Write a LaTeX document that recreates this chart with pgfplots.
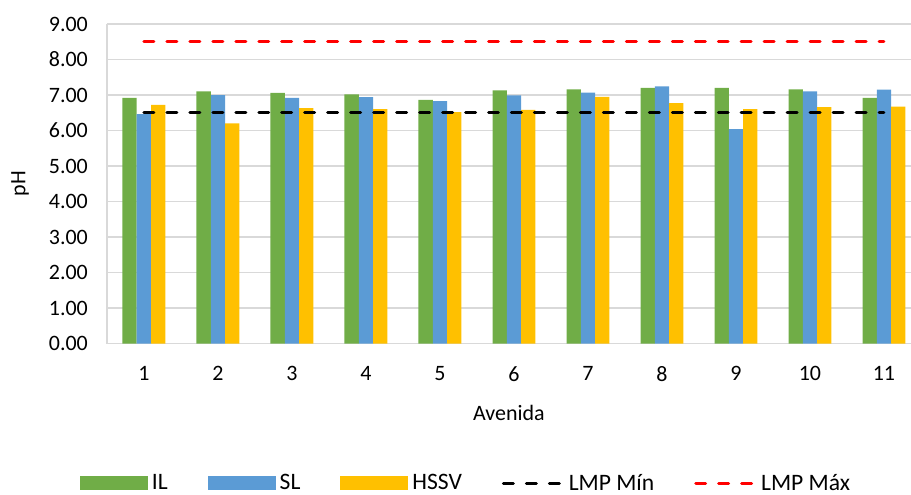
\documentclass[border=0pt]{standalone}
\usepackage{pgfplots}
\pgfplotsset{compat=1.18}
\usepackage{fontspec}
\setmainfont{Carlito}

\definecolor{cIL}{HTML}{70AD47}
\definecolor{cSL}{HTML}{5B9BD5}
\definecolor{cHS}{HTML}{FFC000}
\definecolor{gridc}{HTML}{D9D9D9}

\tikzset{lmp/.style={line width=1.5pt, line cap=round, dash pattern=on 5pt off 6.5pt}}

\pgfplotstableread{
av   IL    SL    HSSV
1    6.92  6.46  6.72
2    7.10  7.00  6.20
3    7.06  6.92  6.63
4    7.02  6.94  6.60
5    6.86  6.83  6.52
6    7.13  6.99  6.58
7    7.16  7.07  6.95
8    7.20  7.24  6.77
9    7.20  6.04  6.60
10   7.16  7.10  6.66
11   6.92  7.15  6.67
}\phdata

\begin{document}
\begin{tikzpicture}
\path[use as bounding box] (-53.5pt,-75.65pt) rectangle (402.5pt,172pt);
\begin{axis}[
  at={(0,0)}, anchor=south west,
  scale only axis,
  width=402.5pt, height=160pt,
  xmin=0.5, xmax=11.365,
  ymin=0, ymax=9,
  xtick={1,...,11},
  ytick={0,1,...,9},
  axis line style={draw=none},
  ymajorgrids=true,
  extra x ticks={0.5},
  extra x tick labels={},
  extra x tick style={xmajorgrids=true},
  grid style={gridc, line width=0.8pt},
  major tick length=0pt,
  /pgf/number format/assume math mode=true,
  yticklabel style={/pgf/number format/fixed, /pgf/number format/fixed zerofill,
    /pgf/number format/precision=2, xshift=-6pt},
  ticklabel style={font=\fontsize{11}{13}\selectfont, text=black},
  xticklabel style={yshift=-8pt},
  xlabel={Avenida},
  ylabel={pH},
  label style={font=\fontsize{11}{13}\selectfont},
  xlabel style={at={(axis description cs:0.5,-0.216)}, anchor=center},
  ylabel style={at={(axis description cs:-0.108,0.5)}, anchor=center},
  legend columns=5,
  legend style={at={(axis description cs:0.448,-0.4375)}, anchor=center,
    draw=none, font=\fontsize{11.8}{13}\selectfont,
    /tikz/every even column/.append style={column sep=18pt}},
  bar width=7.15pt,
]
\addplot[ybar, bar shift=-7.15pt, fill=cIL, draw=none,
  legend image code/.code={\fill[cIL] (0pt,-3.5pt) rectangle (34pt,3.5pt);}]
  table[x=av, y=IL] {\phdata};
\addplot[ybar, bar shift=0pt, fill=cSL, draw=none,
  legend image code/.code={\fill[cSL] (0pt,-3.5pt) rectangle (34pt,3.5pt);}]
  table[x=av, y=SL] {\phdata};
\addplot[ybar, bar shift=7.15pt, fill=cHS, draw=none,
  legend image code/.code={\fill[cHS] (0pt,-3.5pt) rectangle (34pt,3.5pt);}]
  table[x=av, y=HSSV] {\phdata};
\addplot[black, lmp,
  legend image code/.code={\draw[black, lmp] (0pt,0pt) -- (30pt,0pt);}]
  coordinates {(1,6.5) (11,6.5)};
\addplot[red, lmp,
  legend image code/.code={\draw[red, lmp] (0pt,0pt) -- (30pt,0pt);}]
  coordinates {(1,8.5) (11,8.5)};
\legend{IL, SL, HSSV, LMP Mín, LMP Máx}
\end{axis}
\end{tikzpicture}
\end{document}
